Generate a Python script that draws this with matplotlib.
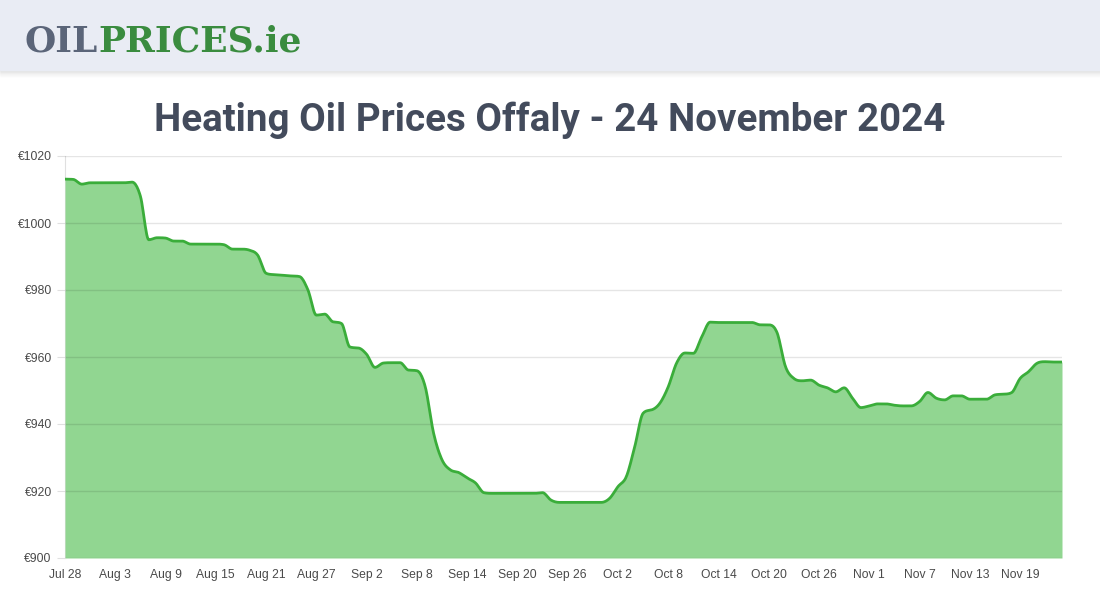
import numpy as np
import matplotlib
matplotlib.use('Agg')
import matplotlib.pyplot as plt
from matplotlib.patches import Rectangle

# daily prices, Jul 28 -> Nov 24 2024
prices = [
    1013.1, 1013.0, 1011.6, 1012.0, 1012.0, 1012.0, 1012.0, 1012.0, 1012.2, 1008.0,
    995.0, 995.6, 995.5, 994.6, 994.6, 993.7, 993.7, 993.7, 993.7, 993.5,
    992.2, 992.2, 991.9, 990.4, 985.0, 984.6, 984.4, 984.2, 984.0, 980.0,
    972.5, 972.8, 970.5, 970.0, 963.0, 962.7, 960.8, 956.9, 958.2, 958.3,
    958.3, 956.1, 955.9, 951.1, 937.2, 929.3, 926.3, 925.5, 923.9, 922.4,
    919.5, 919.3, 919.3, 919.3, 919.3, 919.3, 919.3, 919.5, 917.3, 916.6,
    916.6, 916.6, 916.6, 916.6, 916.6, 917.8, 921.3, 924.3, 933.2, 943.2,
    944.2, 946.2, 951.1, 958.2, 961.2, 961.1, 966.0, 970.4, 970.3, 970.3,
    970.3, 970.3, 970.3, 969.6, 969.6, 967.2, 957.1, 953.6, 952.9, 953.1,
    951.6, 950.8, 949.6, 950.8, 947.7, 944.9, 945.4, 946.0, 946.0, 945.6,
    945.4, 945.4, 946.7, 949.4, 947.7, 947.2, 948.4, 948.4, 947.4, 947.4,
    947.4, 948.7, 948.9, 949.4, 953.6, 955.6, 958.1, 958.6, 958.5, 958.5,
]
tick_days = list(range(0, 115, 6))
tick_labels = ['Jul 28', 'Aug 3', 'Aug 9', 'Aug 15', 'Aug 21', 'Aug 27', 'Sep 2',
               'Sep 8', 'Sep 14', 'Sep 20', 'Sep 26', 'Oct 2', 'Oct 8', 'Oct 14',
               'Oct 20', 'Oct 26', 'Nov 1', 'Nov 7', 'Nov 13', 'Nov 19']
y_ticks = [900, 920, 940, 960, 980, 1000, 1020]
title = 'Heating Oil Prices Offaly - 24 November 2024'


def monotone_curve(x, y, n=12):
    # Fritsch-Carlson monotone cubic, like the web chart's smoothing
    x = np.asarray(x, float); y = np.asarray(y, float)
    h = np.diff(x); d = np.diff(y) / h
    m = np.zeros_like(y)
    m[0], m[-1] = d[0], d[-1]
    for i in range(1, len(y) - 1):
        if d[i - 1] * d[i] <= 0:
            m[i] = 0
        else:
            m[i] = (d[i - 1] + d[i]) / 2
    for i in range(len(d)):
        if d[i] == 0:
            m[i] = m[i + 1] = 0
        else:
            a, b = m[i] / d[i], m[i + 1] / d[i]
            s = a * a + b * b
            if s > 9:
                t = 3 / np.sqrt(s)
                m[i], m[i + 1] = t * a * d[i], t * b * d[i]
    xs, ys = [], []
    for i in range(len(d)):
        t = np.linspace(0, 1, n, endpoint=False)
        h00 = 2*t**3 - 3*t**2 + 1; h10 = t**3 - 2*t**2 + t
        h01 = -2*t**3 + 3*t**2; h11 = t**3 - t**2
        xs.append(x[i] + t * h[i])
        ys.append(h00*y[i] + h10*h[i]*m[i] + h01*y[i+1] + h11*h[i]*m[i+1])
    xs.append([x[-1]]); ys.append([y[-1]])
    return np.concatenate(xs), np.concatenate(ys)


def fit_width(txt, target_px, fig):
    # shrink/grow a text so it spans target_px
    fig.canvas.draw()
    w = txt.get_window_extent().width
    txt.set_fontsize(txt.get_fontsize() * target_px / w)


days = np.arange(len(prices))
xs, ys = monotone_curve(days, prices)

fig = plt.figure(figsize=(11, 6), dpi=100)
fig.patch.set_facecolor('white')

# header band with soft shadow
for i in range(8):
    fig.patches.append(Rectangle((0, 1 - (70 + i) / 600), 1, 1 / 600,
                                 transform=fig.transFigure, color='#000000',
                                 alpha=0.035 * (1 - i / 8), zorder=0))
fig.patches.append(Rectangle((0, 1 - 70 / 600), 1, 70 / 600, transform=fig.transFigure,
                             color='#e9ecf4', zorder=1))
logo_kw = dict(fontsize=28, fontweight='heavy', family='DejaVu Serif', va='baseline')
t1 = fig.text(25 / 1100, 1 - 51 / 600, 'OIL', color='#5b6579', **logo_kw)
fig.canvas.draw()
bb = t1.get_window_extent()
t2 = fig.text(bb.x1 / 1100, 1 - 51 / 600, 'PRICES.ie', color='#3a8c3f', **logo_kw)
fig.canvas.draw()
scale = (303 - 25) / (t2.get_window_extent().x1 - 25)
t1.set_fontsize(28 * scale)
t2.set_fontsize(28 * scale)
fig.canvas.draw()
t2.set_x(t1.get_window_extent().x1 / 1100)

ttl = fig.text(0.5, 1 - 131 / 600, title, ha='center', va='baseline',
               fontsize=30, color='#434b5c', family='Roboto', fontweight='bold')
fit_width(ttl, 790, fig)

ax = fig.add_axes([65 / 1100, 42 / 600, 997 / 1100, 402 / 600])
ax.fill_between(xs, ys, 900, color='#91d691', lw=0, zorder=1)
ax.plot(xs, ys, color='#3aad3a', lw=2, zorder=3, solid_capstyle='round')
ax.set_xlim(0, len(prices) - 1)
ax.set_ylim(900, 1020)
ax.set_yticks(y_ticks)
ax.set_yticklabels([f'€{v}' for v in y_ticks])
ax.set_xticks(tick_days)
ax.set_xticklabels(tick_labels)
for v in y_ticks:
    ax.axhline(v, color='black', alpha=0.1, lw=1, zorder=2)
for s in ['top', 'right', 'bottom']:
    ax.spines[s].set_visible(False)
ax.spines['left'].set_color('#e0e0e0')
ax.spines['left'].set_zorder(0)
ax.tick_params(axis='y', length=6, color='#e0e0e0', pad=3.5, labelsize=8.7,
               labelcolor='#4a4a4a')
ax.tick_params(axis='x', length=0, pad=8, labelsize=8.7, labelcolor='#4a4a4a')
for lab in ax.get_xticklabels() + ax.get_yticklabels():
    lab.set_family('Liberation Sans')

fig.savefig('out.png', dpi=100)
